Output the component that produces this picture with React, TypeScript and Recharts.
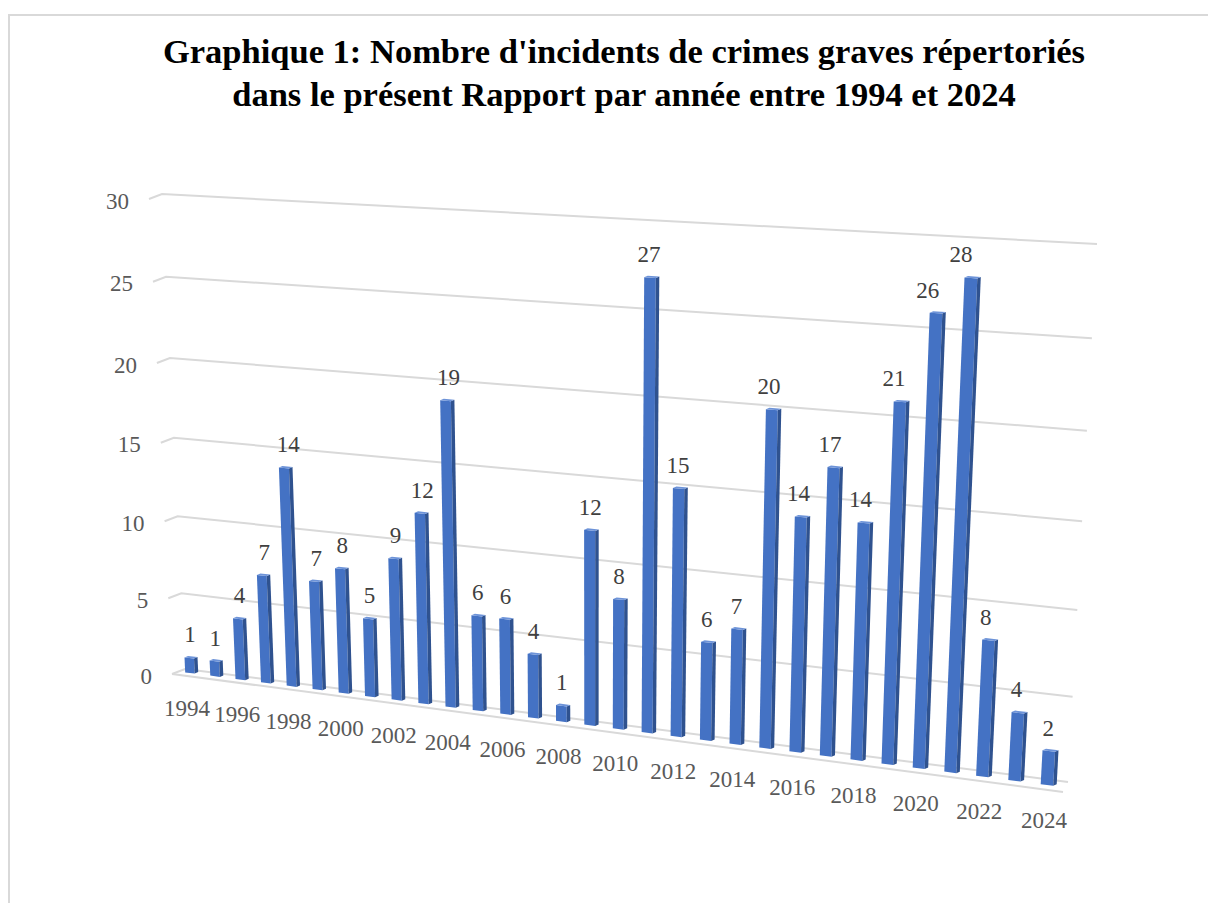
import React from 'react';
import { BarChart, Bar, XAxis, YAxis, CartesianGrid, LabelList } from 'recharts';

const years = [
  '1994', '1995', '1996', '1997', '1998', '1999', '2000', '2001', '2002', '2003', '2004',
  '2005', '2006', '2007', '2008', '2009', '2010', '2011', '2012', '2013', '2014',
  '2015', '2016', '2017', '2018', '2019', '2020', '2021', '2022', '2023', '2024',
];
const incidents = [
  1, 1, 4, 7, 14, 7, 8, 5, 9, 12, 19,
  6, 6, 4, 1, 12, 8, 27, 15, 6, 7,
  20, 14, 17, 14, 21, 26, 28, 8, 4, 2,
];
const valueTicks = [0, 5, 10, 15, 20, 25, 30];
const titleLines = [
  "Graphique 1: Nombre d'incidents de crimes graves répertoriés",
  'dans le présent Rapport par année entre 1994 et 2024',
];

const data = years.map((year, i) => ({ year, incidents: incidents[i] }));

// flat layout that recharts computes, later bent into the 3d view
const W = 1208;
const H = 903;
const Y_AXIS_W = 40;
const X_AXIS_H = 40;
const PLOT_LEFT = Y_AXIS_W;
const PLOT_BOTTOM = H - X_AXIS_H;
const PLOT_H = PLOT_BOTTOM;
const BAND = (W - Y_AXIS_W) / years.length;
const Y_MAX = valueTicks[valueTicks.length - 1];

const GRID = '#d9d9d9';
const AXIS_TEXT = '#595959';
const LABEL_TEXT = '#404040';
const FONT = '"Liberation Serif", "Times New Roman", serif';
const TICK_SIZE = 23;

type Pt = [number, number];

// 4-point perspective fit (plane -> screen)
function fitHomography(src: Pt[], dst: Pt[]) {
  const m: number[][] = [];
  src.forEach(([x, y], k) => {
    const [u, w] = dst[k];
    m.push([x, y, 1, 0, 0, 0, -u * x, -u * y, u]);
    m.push([0, 0, 0, x, y, 1, -w * x, -w * y, w]);
  });
  for (let c = 0; c < 8; c++) {
    let p = c;
    for (let r = c + 1; r < 8; r++) if (Math.abs(m[r][c]) > Math.abs(m[p][c])) p = r;
    [m[c], m[p]] = [m[p], m[c]];
    for (let r = 0; r < 8; r++) {
      if (r === c) continue;
      const f = m[r][c] / m[c][c];
      for (let k = c; k < 9; k++) m[r][k] -= f * m[c][k];
    }
  }
  const h = m.map((row, r) => row[8] / row[r]);
  return (x: number, y: number): Pt => {
    const d = h[6] * x + h[7] * y + 1;
    return [(h[0] * x + h[1] * y + h[2]) / d, (h[3] * x + h[4] * y + h[5]) / d];
  };
}

// (category index, value) -> screen, front plane of the columns
const columnPlane = fitHomography(
  [[0, 0], [30, 0], [27, 28], [4, 14]],
  [[190, 673], [1047, 785], [971, 278], [284, 468]],
);
// (0..1 across, value) -> screen
const backWall = fitHomography(
  [[0, 0], [1, 0], [0, 30], [1, 30]],
  [[185, 669], [1068, 782], [162, 194], [1097, 244]],
);
// left wall is only a thin strip in front of the back wall
const SIDE_DEPTH: Pt = [-13, 5];
const sideFront = (v: number): Pt => {
  const k = backWall(0, v);
  return [k[0] + SIDE_DEPTH[0], k[1] + SIDE_DEPTH[1]];
};
const FLOOR_FRONT_END: Pt = [1063, 792];

const HALF_W = 0.19;
const DEPTH: Pt = [3.5, -1.5];

const toIndex = (xFlat: number) => (xFlat - PLOT_LEFT) / BAND - 0.5;
const toValue = (yFlat: number) => ((PLOT_BOTTOM - yFlat) / PLOT_H) * Y_MAX;
const pts = (list: Pt[]) => list.map((p) => `${p[0].toFixed(1)},${p[1].toFixed(1)}`).join(' ');
const shift = (p: Pt): Pt => [p[0] + DEPTH[0], p[1] + DEPTH[1]];

function Column3D(props: any) {
  const { x, width, height } = props;
  if (!height) return null;
  const i = toIndex(x + width / 2);
  const v = (Math.abs(height) / PLOT_H) * Y_MAX;
  const bl = columnPlane(i - HALF_W, 0);
  const br = columnPlane(i + HALF_W, 0);
  const tr = columnPlane(i + HALF_W, v);
  const tl = columnPlane(i - HALF_W, v);
  return (
    <g>
      <polygon points={pts([bl, br, tr, tl])} fill="#4472c4" />
      <polygon points={pts([br, shift(br), shift(tr), tr])} fill="#2f528f" />
      <polygon points={pts([tl, tr, shift(tr), shift(tl)])} fill="#6d93d8" />
    </g>
  );
}

function renderValueLabel(props: any) {
  const { x, width, height, value } = props;
  const i = toIndex(Number(x) + Number(width) / 2);
  const v = (Math.abs(Number(height)) / PLOT_H) * Y_MAX;
  const top = columnPlane(i, v);
  const base = columnPlane(i, 0);
  return (
    <text
      x={(top[0] + base[0]) / 2 + 0.5}
      y={top[1] - 23}
      textAnchor="middle"
      dominantBaseline="central"
      fontFamily={FONT}
      fontSize={TICK_SIZE}
      fill={LABEL_TEXT}
    >
      {value}
    </text>
  );
}

function renderGridLine(props: any) {
  const v = Math.round(toValue(props.y1));
  const a = sideFront(v);
  const b = backWall(0, v);
  const c = backWall(1, v);
  return (
    <g key={`grid-${v}`}>
      <polyline points={pts([a, b, c])} fill="none" stroke={GRID} strokeWidth={2} />
      {v === 0 && (
        <line x1={a[0]} y1={a[1]} x2={FLOOR_FRONT_END[0]} y2={FLOOR_FRONT_END[1]} stroke={GRID} strokeWidth={2} />
      )}
    </g>
  );
}

function renderValueTick(props: any) {
  const { y, payload } = props;
  const [px, py] = sideFront(Math.round(toValue(y)));
  return (
    <text
      x={px - 20}
      y={py + 2}
      textAnchor="end"
      dominantBaseline="central"
      fontFamily={FONT}
      fontSize={TICK_SIZE}
      fill={AXIS_TEXT}
    >
      {payload.value}
    </text>
  );
}

function renderYearTick(props: any) {
  const { x, payload } = props;
  const [px, py] = columnPlane(toIndex(x), 0);
  return (
    <text
      x={px - 3}
      y={py + 35}
      textAnchor="middle"
      dominantBaseline="central"
      fontFamily={FONT}
      fontSize={TICK_SIZE}
      fill={AXIS_TEXT}
    >
      {payload.value}
    </text>
  );
}

export default function App() {
  return (
    <div
      style={{
        position: 'fixed',
        left: 0,
        top: 0,
        width: W,
        height: H,
        overflow: 'hidden',
        background: '#fff',
      }}
    >
      <div
        style={{
          position: 'absolute',
          left: 8,
          top: 14,
          width: 1200,
          height: 889,
          borderTop: `2px solid ${GRID}`,
          borderLeft: `2px solid ${GRID}`,
          boxSizing: 'border-box',
        }}
      />
      <div
        style={{
          position: 'absolute',
          left: 24,
          top: 30,
          width: 1200,
          textAlign: 'center',
          fontFamily: FONT,
          fontWeight: 'bold',
          fontSize: 34.5,
          lineHeight: '43px',
          color: '#000',
        }}
      >
        {titleLines.map((line) => (
          <div key={line}>{line}</div>
        ))}
      </div>
      <div style={{ position: 'absolute', left: 0, top: 0 }}>
        <BarChart width={W} height={H} data={data} margin={{ top: 0, right: 0, bottom: 0, left: 0 }}>
          <CartesianGrid vertical={false} horizontal={renderGridLine} />
          <XAxis
            dataKey="year"
            height={X_AXIS_H}
            interval={1}
            axisLine={false}
            tickLine={false}
            tick={renderYearTick}
          />
          <YAxis
            width={Y_AXIS_W}
            domain={[0, Y_MAX]}
            ticks={valueTicks}
            axisLine={false}
            tickLine={false}
            tick={renderValueTick}
          />
          <Bar dataKey="incidents" shape={Column3D} isAnimationActive={false}>
            <LabelList dataKey="incidents" content={renderValueLabel} />
          </Bar>
        </BarChart>
      </div>
    </div>
  );
}
